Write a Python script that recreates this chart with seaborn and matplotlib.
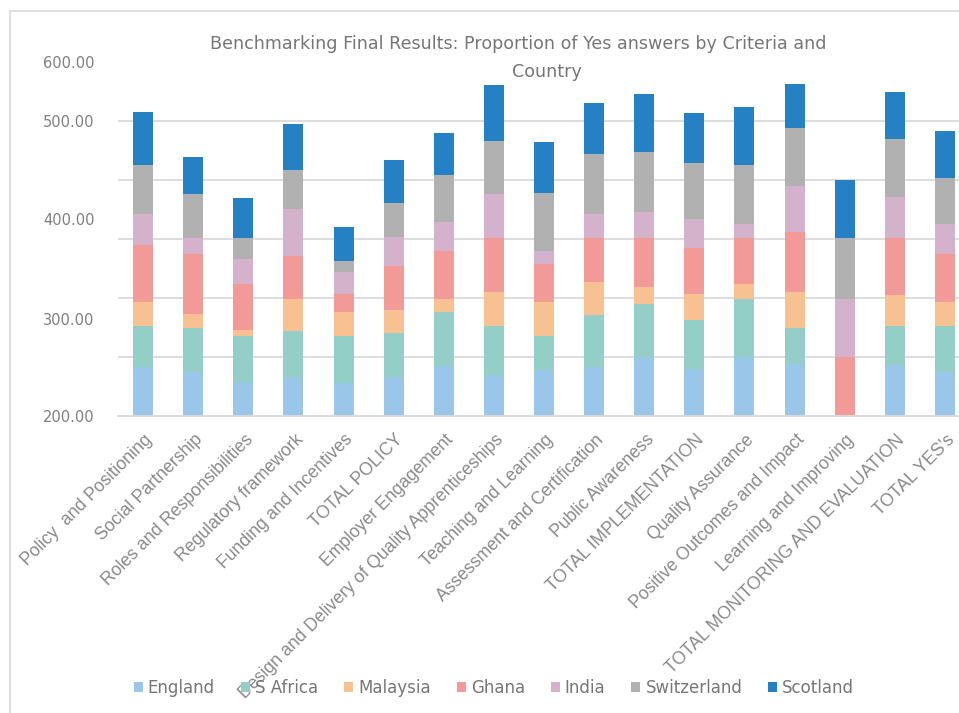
import numpy as np
import pandas as pd
import seaborn as sns
import matplotlib
matplotlib.use("Agg")
import matplotlib.pyplot as plt
from matplotlib.patches import Patch
from matplotlib.lines import Line2D
import matplotlib.transforms as mtransforms

categories = [
    "Policy  and Positioning", "Social Partnership", "Roles and Responsibilities",
    "Regulatory framework", "Funding and Incentives", "TOTAL POLICY",
    "Employer Engagement", "Design and Delivery of Quality Apprenticeships",
    "Teaching and Learning", "Assessment and Certification", "Public Awareness",
    "TOTAL IMPLEMENTATION", "Quality Assurance", "Positive Outcomes and Impact",
    "Learning and Improving", "TOTAL MONITORING AND EVALUATION", "TOTAL YES's",
]
countries = ["England", "S Africa", "Malaysia", "Ghana", "India", "Switzerland", "Scotland"]

england     = [249.0, 244.0, 234.4, 237.7, 233.0, 239.4, 249.7, 240.7, 246.0, 249.0, 259.0, 247.4, 259.0, 252.4, 0.0, 250.7, 244.0]
s_africa    = [40.7, 44.0, 45.3, 47.0, 46.7, 44.0, 54.7, 49.0, 34.0, 52.4, 53.4, 49.0, 58.4, 35.6, 0.0, 39.0, 45.7]
malaysia    = [24.0, 14.4, 6.7, 32.7, 24.7, 22.3, 13.0, 34.0, 34.0, 32.6, 16.3, 25.6, 14.6, 35.7, 0.0, 30.7, 24.3]
ghana       = [57.3, 59.0, 45.3, 42.0, 17.6, 44.0, 47.3, 53.7, 37.7, 43.4, 48.7, 45.7, 45.4, 60.3, 258.7, 57.0, 47.4]
india       = [30.7, 16.0, 24.7, 47.3, 21.7, 29.3, 29.0, 44.0, 13.0, 24.3, 26.3, 29.3, 14.6, 45.7, 58.7, 41.0, 30.6]
switzerland = [49.0, 44.0, 21.0, 39.0, 11.0, 33.4, 47.0, 53.6, 58.3, 60.3, 60.0, 55.4, 58.7, 58.3, 60.0, 58.3, 45.4]
scotland    = [53.3, 37.6, 40.6, 45.7, 34.3, 43.0, 42.3, 55.4, 50.4, 50.4, 58.3, 50.3, 58.3, 43.7, 58.6, 47.0, 47.3]

series = [england, s_africa, malaysia, ghana, india, switzerland, scotland]
colors = ["#9AC6EA", "#93CEC7", "#F8C192", "#F29A98", "#D4B2CB", "#B1B1B1", "#2581C4"]

ytick_labels = ["200.00", "300.00", "400.00", "500.00", "600.00"]

title1 = "Benchmarking Final Results: Proportion of Yes answers by Criteria and"
title2 = "Country"

sns.set_theme(style="white")
plt.rcParams["font.family"] = ["DejaVu Sans"]

W, H = 959, 713
fig = plt.figure(figsize=(W / 100, H / 100), dpi=100)
ax_left, ax_right, ax_top, ax_bottom = 118, 970, 62, 416
ax = fig.add_axes([ax_left / W, 1 - ax_bottom / H, (ax_right - ax_left) / W, (ax_bottom - ax_top) / H])

cum = np.zeros(len(categories))
cums = []
for s in series:
    cum = cum + np.array(s)
    cums.append(cum.copy())
df_c = pd.DataFrame({c: v for c, v in zip(countries, cums)})
df_c["category"] = categories

for name, col in reversed(list(zip(countries, colors))):
    sns.barplot(data=df_c, x="category", y=name, order=categories, color=col,
                saturation=1, width=0.4, errorbar=None, ax=ax, linewidth=0)

ymin, ymax = 200, 553.7
ax.set_ylim(ymin, ymax)
ax.set_xlim(-0.5, len(categories) - 0.5)

# gridlines (minor) and tick labels (major)
ax.set_yticks(np.linspace(ymin, ymax, 7), minor=True)
ax.set_yticks([200, 296.7, 396.7, 494.7, 553.7])
ax.set_yticklabels(ytick_labels)
ax.grid(False)
ax.grid(True, which="minor", axis="y", color="#DDDDDD", linewidth=1.4)
ax.set_axisbelow(True)
ax.tick_params(axis="y", which="both", length=0, pad=17, labelsize=10.5, labelcolor="#7F7F7F")

ax.set_xlabel("")
ax.set_ylabel("")
ax.set_xticks(range(len(categories)))
ax.set_xticklabels(categories, rotation=45, ha="right", rotation_mode="anchor",
                   fontsize=12.7, color="#898989", family="Liberation Sans")
ax.tick_params(axis="x", length=0, pad=11)
offset = mtransforms.ScaledTranslation(1 / 100, 0, fig.dpi_scale_trans)
for lbl in ax.get_xticklabels():
    lbl.set_transform(lbl.get_transform() + offset)

for sp in ["left", "right", "top"]:
    ax.spines[sp].set_visible(False)
ax.spines["bottom"].set_color("#D9D9D9")
ax.spines["bottom"].set_linewidth(1.4)

fig.text(518 / W, 1 - 44 / H, title1, ha="center", va="center", fontsize=12.6, color="#767676")
fig.text(547 / W, 1 - 72 / H, title2, ha="center", va="center", fontsize=12.6, color="#767676")

handles = [Patch(facecolor=c, edgecolor="none") for c in colors]
fig.legend(handles, countries, loc="center", bbox_to_anchor=(494 / W, 1 - 688 / H), ncol=7,
           frameon=False, handlelength=0.55, handleheight=0.55, handletextpad=0.3,
           columnspacing=1.55, fontsize=12, labelcolor="#767676")

# chart-area border
fig.add_artist(Line2D([10 / W, 10 / W], [0, 1 - 11 / H], color="#D9D9D9", linewidth=1.2))
fig.add_artist(Line2D([10 / W, 1], [1 - 11 / H, 1 - 11 / H], color="#D9D9D9", linewidth=1.2))

fig.savefig("out.png", dpi=100)
